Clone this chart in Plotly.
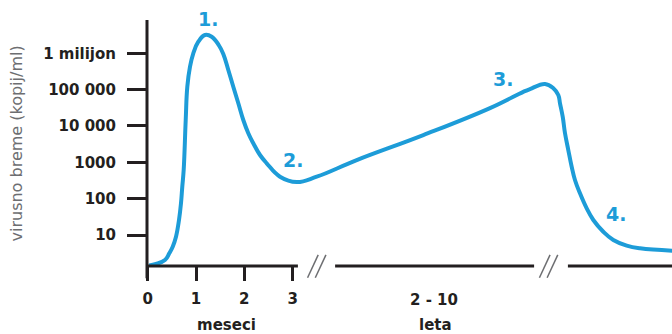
import plotly.graph_objects as go

# viral load curve (x: months on the first part, schematic afterwards)
months = [0.03, 0.172, 0.358, 0.447, 0.518, 0.586, 0.648, 0.689, 0.716, 0.745,
          0.787, 0.82, 0.876, 0.944, 1.048, 1.186, 1.325, 1.476, 1.565, 1.669,
          1.772, 1.876, 1.979, 2.083, 2.186, 2.325, 2.464, 2.739, 3.085, 3.499,
          4.327, 5.706, 7.087, 7.776, 7.915, 8.226, 8.398, 8.501, 8.536, 8.592,
          8.64, 8.708, 8.778, 8.846, 8.95, 9.089, 9.226, 9.433, 9.64, 9.917,
          10.193, 10.86]
viral_load = [1.45, 1.59, 2.05, 3.13, 4.77, 9.0, 25.9, 74.5, 213, 615,
              14600, 120000, 428000, 1.0e6, 2.08e6, 3.19e6, 2.86e6, 1.64e6, 9.6e5, 347000,
              120000, 42100, 14600, 6300, 3340, 1590, 940, 402, 287, 402,
              1150, 5600, 31000, 87000, 104000, 143000, 109000, 71300, 42100, 18000,
              6300, 2180, 757, 326, 140, 54, 25.9, 12.3, 7.3, 5.1,
              4.3, 3.7]

y_tickvals = [10, 100, 1000, 10000, 100000, 1000000]
y_ticktext = ["10", "100", "1000", "10 000", "100 000", "1 milijon"]
x_tickvals = [0, 1, 2, 3]
x_ticktext = ["0", "1", "2", "3"]

BLUE = "#1d9cd8"
DARK = "#231f20"
GRAY = "#6d6e71"
FONT = "DejaVu Sans"

fig = go.Figure()

fig.add_trace(go.Scatter(
    x=months, y=viral_load,
    mode="lines",
    line=dict(color=BLUE, width=4, shape="spline", smoothing=1.2),
    showlegend=False,
    hoverinfo="skip"
))

# y axis line, reaching a bit under the x axis
fig.add_shape(type="line", xref="paper", yref="paper", x0=0, x1=0, y0=-0.05, y1=1,
              line=dict(color=DARK, width=3))

# broken x axis
for a, b in [(-0.03, 3.11), (3.88, 8.0), (8.7, 11)]:
    fig.add_shape(type="line", xref="x", yref="paper", x0=a, x1=b, y0=0, y1=0,
                  line=dict(color=DARK, width=3))

# "//" break marks
for c in [3.5, 8.3]:
    for off in [-0.08, 0.08]:
        fig.add_shape(type="line", xref="x", yref="paper",
                      x0=c + off - 0.11, x1=c + off + 0.11, y0=-0.048, y1=0.045,
                      line=dict(color=GRAY, width=1.5))

texts = [
    ("meseci", 1.64, -0.238),
    ("2 - 10", 5.93, -0.138),
    ("leta", 5.95, -0.238),
]
for t, x, y in texts:
    fig.add_annotation(x=x, y=y, xref="x", yref="paper", text=t, showarrow=False,
                       font=dict(family=FONT, size=15, color=DARK, weight="bold"),
                       xanchor="center", yanchor="middle")

phases = [("1.", 1.247, 1.004), ("2.", 3.008, 0.431), ("3.", 7.357, 0.76), ("4.", 9.695, 0.211)]
for t, x, y in phases:
    fig.add_annotation(x=x, y=y, xref="x", yref="paper", text=t, showarrow=False,
                       font=dict(family=FONT, size=19, color=BLUE, weight="bold"),
                       xanchor="center", yanchor="middle")

fig.add_annotation(x=-0.2486, y=0.5, xref="paper", yref="paper",
                   text="virusno breme (kopij/ml)", showarrow=False, textangle=-90,
                   font=dict(family=FONT, size=16, color=GRAY),
                   xanchor="center", yanchor="middle")

fig.update_layout(
    width=672, height=334,
    margin=dict(l=147, r=0, t=20, b=68),
    plot_bgcolor="white",
    paper_bgcolor="white",
    xaxis=dict(
        range=[-0.0145, 10.855], automargin=False,
        showgrid=False, zeroline=False, showline=False,
        tickvals=x_tickvals, ticktext=x_ticktext,
        ticks="outside", ticklen=14, tickwidth=2.5, tickcolor=DARK,
        ticklabelstandoff=5,
        tickfont=dict(family=FONT, size=15, color=DARK, weight="bold"),
    ),
    yaxis=dict(
        type="log", automargin=False,
        range=[0.147, 6.916],
        showgrid=False, zeroline=False, showline=False,
        tickvals=y_tickvals, ticktext=y_ticktext,
        ticks="outside", ticklen=19, tickwidth=2.5, tickcolor=DARK,
        ticklabelstandoff=8,
        tickfont=dict(family=FONT, size=15, color=DARK, weight="bold"),
    ),
)

fig.write_html("out.html", config={"displayModeBar": False},
               post_script="document.body.style.margin='0';")
